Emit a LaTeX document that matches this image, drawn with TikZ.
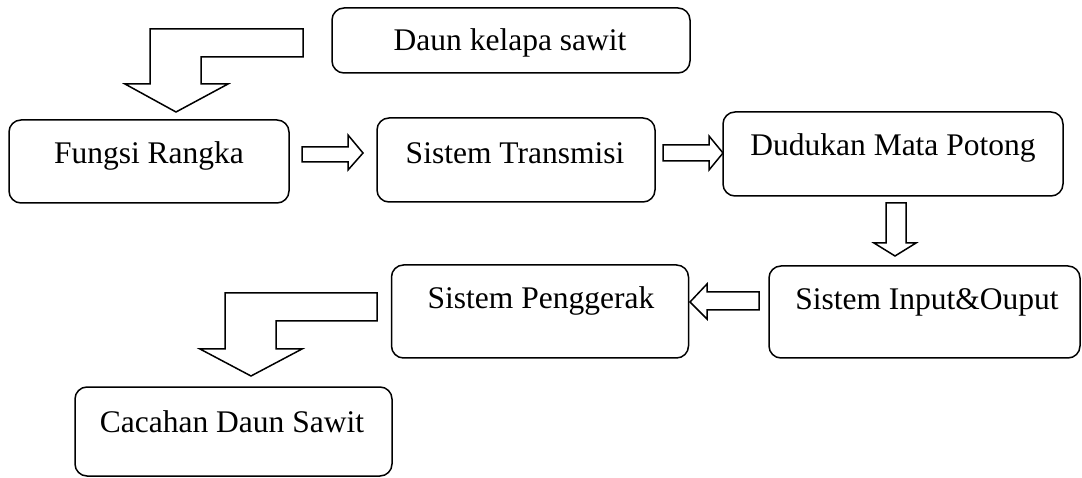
\documentclass[tikz,border=0pt]{standalone}
\usepackage{fontspec}
\setmainfont{Liberation Serif}
\begin{document}
\begin{tikzpicture}[x=1pt,y=-1pt,
  box/.style={draw,line width=1.5pt,rounded corners=12pt,inner sep=0pt},
  fat/.style={draw,line width=1.5pt,line join=miter,fill=white},
  lbl/.style={anchor=base,inner sep=0pt,font=\fontsize{31.5}{36}\selectfont}]
\useasboundingbox (0,0) rectangle (1082,478);
% boxes
\node[box,minimum width=358pt,minimum height=65pt] (daun) at (511,40.5) {};
\node[box,minimum width=280pt,minimum height=83pt] (fungsi) at (149,161.5) {};
\node[box,minimum width=278pt,minimum height=84pt] (trans) at (516,160) {};
\node[box,minimum width=340pt,minimum height=84pt] (dud) at (893,154) {};
\node[box,minimum width=311pt,minimum height=92pt] (inp) at (924.5,312) {};
\node[box,minimum width=297pt,minimum height=93pt] (peng) at (540,311.5) {};
\node[box,minimum width=317pt,minimum height=89pt] (cac) at (233.5,431.5) {};
% labels
\node[lbl] (tdaun) at (510,51) {Daun kelapa sawit};
\node[lbl] (tfungsi) at (149,164) {Fungsi Rangka};
\node[lbl] (ttrans) at (515,164) {Sistem Transmisi};
\node[lbl] (tdud) at (893,156) {Dudukan Mata Potong};
\node[lbl] (tinp) at (927,310) {Sistem Input\&Ouput};
\node[lbl] (tpeng) at (541,309) {Sistem Penggerak};
\node[lbl] (tcac) at (232,432) {Cacahan Daun Sawit};
% bent arrow top-left
\draw[fat] (303,29) -- (150,29) -- (150,84) -- (125,84) -- (176,112) -- (228,84) -- (201,84) -- (201,57) -- (303,57) -- cycle;
% fungsi -> trans
\draw[fat] (302,147) -- (348,147) -- (348,135) -- (363,153) -- (348,170) -- (348,162) -- (302,162) -- cycle;
% trans -> dud
\draw[fat] (663,145) -- (709,145) -- (709,136) -- (723,153) -- (709,170) -- (709,161) -- (663,161) -- cycle;
% dud -> inp
\draw[fat] (886,203) -- (906,203) -- (906,243) -- (916,243) -- (895,256) -- (874,243) -- (886,243) -- cycle;
% inp -> peng
\draw[fat] (759,292) -- (707,292) -- (707,284) -- (690,302) -- (707,319) -- (707,310) -- (759,310) -- cycle;
% bent arrow bottom-left
\draw[fat] (377,293) -- (225,293) -- (225,349) -- (200,349) -- (251,376) -- (302,349) -- (276,349) -- (276,321) -- (377,321) -- cycle;
\end{tikzpicture}
\end{document}
